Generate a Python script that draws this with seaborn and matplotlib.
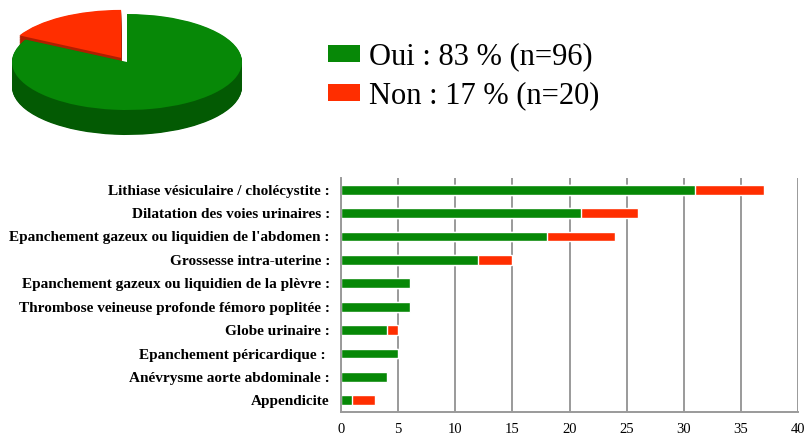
import matplotlib.pyplot as plt
import numpy as np
import pandas as pd
import seaborn as sns
from matplotlib.patches import Patch


# Pie data
pie_labels = ["Oui", "Non"]
pie_counts = [96, 20]
pie_pct = [83, 17]

# Bar data (top to bottom)
categories = [
  "Lithiase vésiculaire / cholécystite :",
  "Dilatation des voies urinaires :",
  "Epanchement gazeux ou liquidien de l'abdomen :",
  "Grossesse intra-uterine :",
  "Epanchement gazeux ou liquidien de la plèvre :",
  "Thrombose veineuse profonde fémoro poplitée :",
  "Globe urinaire :",
  "Epanchement péricardique : ",
  "Anévrysme aorte abdominale :",
  "Appendicite",
]
oui_counts = [31, 21, 18, 12, 6, 6, 4, 5, 4, 1]
non_counts = [6, 5, 6, 3, 0, 0, 1, 0, 0, 2]

GREEN = "#078807"
GREEN_DARK = "#035a03"
RED = "#ff2e00"
RED_DARK = "#b01e00"
GRID = "#9a9a9a"

sns.set_theme(style="white")
plt.rcParams["font.family"] = ["Liberation Serif", "DejaVu Serif"]
plt.rcParams["text.color"] = "black"
plt.rcParams["xtick.labelcolor"] = "black"
plt.rcParams["ytick.labelcolor"] = "black"

W, H = 812, 436
fig = plt.figure(figsize=(W / 100, H / 100), dpi=100)


def px_axes(x0, y0, x1, y1):
  return fig.add_axes([x0 / W, 1 - y1 / H, (x1 - x0) / W, (y1 - y0) / H])


# --- 3D-looking pie (Non drawn first, counter-clockwise from 12 o'clock) ---
ax_pie = px_axes(0, 0, 320, 150)
cx, cy, rx, ry, depth = 127, 62, 115, 48, 25
pie_vals = pie_counts[::-1]
explode = [0.1, 0]
n_layers = 40
for i in range(n_layers, 0, -1):
  off = depth / ry * i / n_layers
  ax_pie.pie(
    pie_vals,
    startangle=90,
    counterclock=True,
    explode=explode,
    colors=[RED_DARK, GREEN_DARK],
    center=(0, -off),
    wedgeprops=dict(linewidth=0),
  )
ax_pie.pie(
  pie_vals,
  startangle=90,
  counterclock=True,
  explode=explode,
  colors=[RED, GREEN],
  center=(0, 0),
  wedgeprops=dict(linewidth=0),
)
ax_pie.set_aspect("auto")
ax_pie.set_xlim(-cx / rx, (320 - cx) / rx)
ax_pie.set_ylim(-(150 - cy) / ry, cy / ry)
ax_pie.axis("off")

# --- legend ---
handles = [
  Patch(facecolor=GREEN, edgecolor="none"),
  Patch(facecolor=RED, edgecolor="none"),
]
legend_texts = [f"{lab} : {p} % (n={n})" for lab, p, n in zip(pie_labels, pie_pct, pie_counts)]
fig.legend(
  handles,
  legend_texts,
  loc="upper left",
  bbox_to_anchor=(316 / W, 1 - 30 / H),
  frameon=False,
  fontsize=22,
  handlelength=1.05,
  handleheight=0.5,
  handletextpad=0.3,
  labelspacing=0.33,
  borderaxespad=0,
)

# --- stacked horizontal bars ---
df = pd.DataFrame({"category": categories, "oui": oui_counts, "non": non_counts})
df["total"] = df["oui"] + df["non"]

ax = px_axes(341, 178, 798, 412)
ax.set_axisbelow(True)
ax.grid(axis="x", color=GRID, linewidth=1.4)
sns.barplot(data=df, x="total", y="category", orient="h", color=RED, width=0.42,
            saturation=1, ax=ax)
sns.barplot(data=df, x="oui", y="category", orient="h", color=GREEN, width=0.42,
            saturation=1, ax=ax)

ax.set_xlim(0, 40)
ax.set_ylim(len(categories) - 0.5, -0.5)
ax.set_xticks(np.arange(0, 41, 5))
ax.set_xlabel("")
ax.set_ylabel("")
ax.tick_params(axis="x", labelsize=10.5, length=4, color=GRID, pad=4)
ax.tick_params(axis="y", length=0, pad=8)
for lab in ax.get_yticklabels():
  lab.set_fontweight("bold")
  lab.set_fontsize(11)
ax.set_yticks(np.arange(-0.5, len(categories), 1), minor=True)
ax.tick_params(axis="y", which="minor", length=4, color=GRID, width=1.2)

for side in ["top", "right"]:
  ax.spines[side].set_visible(False)
for side in ["left", "bottom"]:
  ax.spines[side].set_color(GRID)
  ax.spines[side].set_linewidth(1.4)

fig.savefig("out.png", dpi=100)
